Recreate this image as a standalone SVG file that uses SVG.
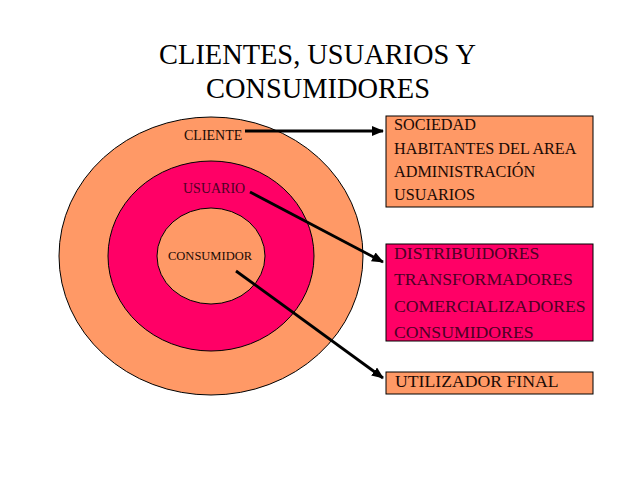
<svg xmlns="http://www.w3.org/2000/svg" width="638" height="479" viewBox="0 0 638 479">
<style>
text{font-family:"Liberation Serif","Times New Roman",serif;fill:#1a0a05}
.t{font-size:28.4px;text-anchor:middle;fill:#000}
.s{font-size:14px}
.b{font-size:16.2px}
.l{font-size:17.7px}
.d{fill:#4d0024}
.o{fill:#ff9966;stroke:#000;stroke-width:1}
.m{fill:#ff0066;stroke:#000;stroke-width:1}
.c{fill:none;stroke:#000;stroke-width:2.8;marker-end:url(#a)}
</style>
<defs><marker id="a" markerUnits="userSpaceOnUse" markerWidth="12" markerHeight="10" refX="11" refY="5" orient="auto"><path d="M0 0L12 5L0 10Z" fill="#000"/></marker></defs>
<rect width="638" height="479" fill="#fff"/>
<g id="title"><text class="t" x="317.5" y="64">CLIENTES, USUARIOS Y</text><text class="t" x="318" y="98">CONSUMIDORES</text></g>
<g id="cliente"><ellipse class="o" cx="211" cy="256" rx="152" ry="139"/><text class="s" x="184" y="140">CLIENTE</text></g>
<g id="usuario"><ellipse class="m" cx="211" cy="256" rx="103" ry="95"/><text class="s d" x="183" y="193">USUARIO</text></g>
<g id="consumidor"><ellipse class="o" cx="211" cy="256" rx="54" ry="48"/><text class="s" style="font-size:12.5px" x="168" y="260">CONSUMIDOR</text></g>
<g id="box1"><rect class="o" x="386" y="116" width="207" height="91"/><text class="b" x="394" y="130">SOCIEDAD</text><text class="b" x="394" y="154">HABITANTES DEL AREA</text><text class="b" x="394" y="177">ADMINISTRACIÓN</text><text class="b" x="394" y="200">USUARIOS</text></g>
<g id="box2"><rect class="m" x="386" y="244" width="207" height="97"/><text class="l d" x="394" y="259">DISTRIBUIDORES</text><text class="l d" x="394" y="285">TRANSFORMADORES</text><text class="l d" x="394" y="312">COMERCIALIZADORES</text><text class="l d" x="394" y="338">CONSUMIDORES</text></g>
<g id="box3"><rect class="o" x="386" y="372" width="207" height="22"/><text class="l" x="395" y="387">UTILIZADOR FINAL</text></g>
<g id="connectors"><line class="c" x1="245" y1="131" x2="383" y2="131"/><line class="c" x1="250" y1="192" x2="383" y2="262"/><line class="c" x1="236" y1="271" x2="383" y2="378"/></g>
</svg>
